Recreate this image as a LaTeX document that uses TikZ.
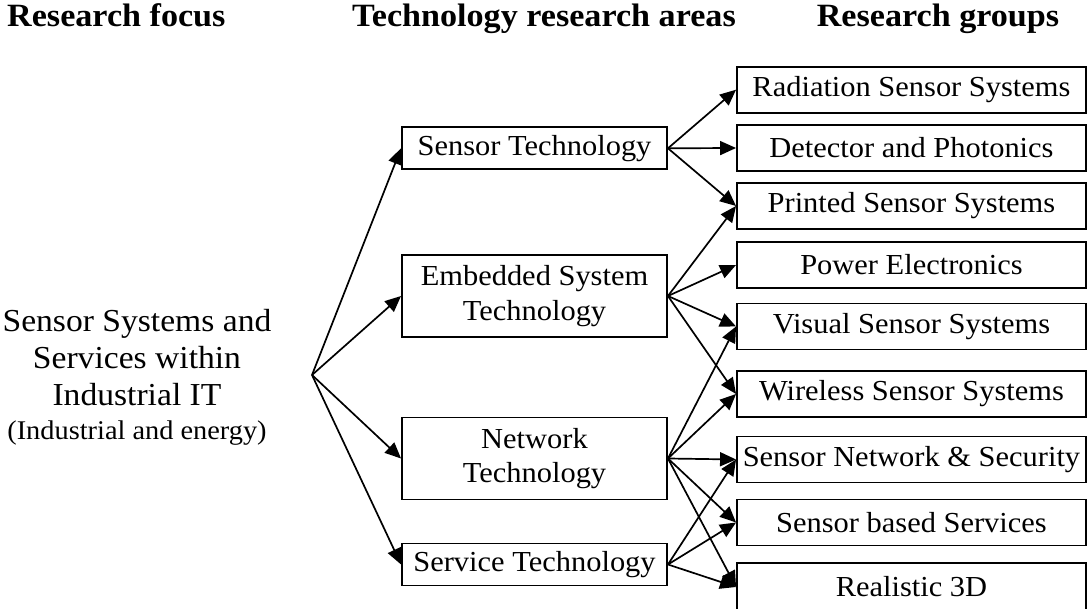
\documentclass[tikz,border=0pt]{standalone}
\usepackage{fontspec}
\setmainfont{Liberation Serif}[FakeStretch=1.05]
\usetikzlibrary{arrows.meta}
\begin{document}
\begin{tikzpicture}[x=1pt,y=-1pt,
  box/.style={draw,line width=1.9pt,inner sep=0pt,align=center,
              font=\fontsize{29}{34.5}\selectfont},
  grp/.style={box,minimum width=349pt,minimum height=46pt},
  area/.style={box,minimum width=265pt},
  link/.style={line width=1.7pt,-{Triangle[length=16pt,width=14pt]}},
  head/.style={font=\bfseries\fontsize{32.5}{38}\selectfont,inner sep=0pt}]
\clip (0,0) rectangle (1088,609);

% column headings
\node[head,anchor=base west] (h1) at (7,27) {Research focus};
\node[head,anchor=base west] (h2) at (352,27) {Technology research areas};
\node[head,anchor=base] (h3) at (938,27) {Research groups};

% research focus
\node[inner sep=0pt,align=center,font=\fontsize{32}{37}\selectfont] (focus) at (137,377)
  {Sensor Systems and\\Services within\\Industrial IT\\[-3pt]
   {\fontsize{27}{31}\selectfont (Industrial and energy)}};
\coordinate (hub) at (312,375);

% technology research areas
\node[area,minimum height=42pt] (sens) at (534.5,148.3) {Sensor Technology};
\node[area,minimum height=82pt] (emb)  at (534.5,296) {Embedded System\\Technology};
\node[area,minimum height=82pt] (net)  at (534.5,458.5) {Network\\Technology};
\node[area,minimum height=42pt] (svc)  at (534.5,564.5) {Service Technology};

% research groups
\node[grp] (rad)  at (911.5,89.7)  {Radiation Sensor Systems};
\node[grp] (det)  at (911.5,148)   {Detector and Photonics};
\node[grp] (pri)  at (911.5,206)   {Printed Sensor Systems};
\node[grp] (pow)  at (911.5,265)   {Power Electronics};
\node[grp] (vis)  at (911.5,326.5) {Visual Sensor Systems};
\node[grp] (wir)  at (911.5,394)   {Wireless Sensor Systems};
\node[grp] (snet) at (911.5,459.5) {Sensor Network \& Security};
\node[grp] (serv) at (911.5,522.5) {Sensor based Services};
\node[grp,minimum height=48pt] (r3d) at (911.5,587) {Realistic 3D};

% focus to areas
\foreach \t in {sens,emb,net,svc}
  \draw[link] (hub) -- (\t.west);

% areas to groups
\foreach \t in {rad,det,pri}
  \draw[link] (sens.east) -- (\t.west);
\foreach \t in {pri,pow,vis,wir}
  \draw[link] (emb.east) -- (\t.west);
\foreach \t in {vis,wir,snet,serv,r3d}
  \draw[link] (net.east) -- (\t.west);
\foreach \t in {snet,serv,r3d}
  \draw[link] (svc.east) -- (\t.west);
\end{tikzpicture}
\end{document}
